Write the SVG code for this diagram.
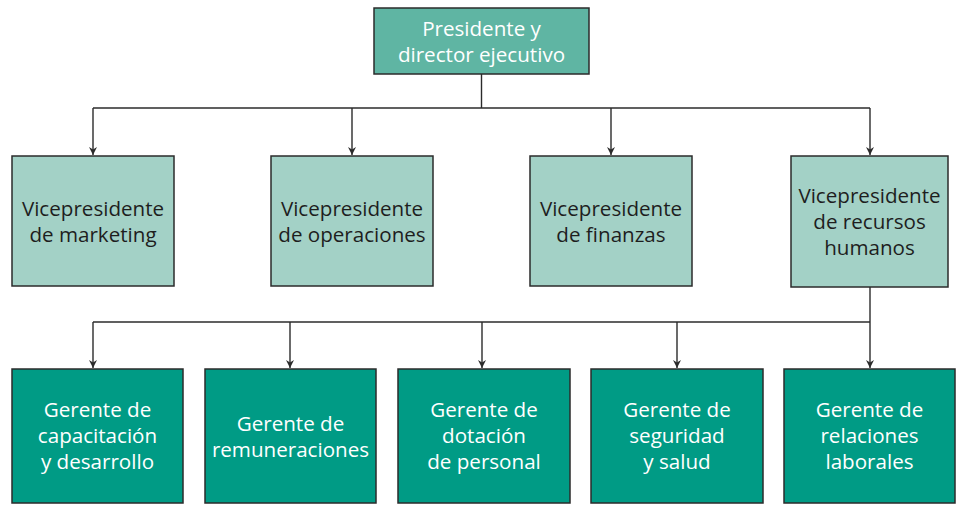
<svg xmlns="http://www.w3.org/2000/svg" width="957" height="505" viewBox="0 0 957 505">
<defs>
<style>
.box{stroke:#2b2b2b;stroke-width:1.5}
.top{fill:#5fb5a3}
.vp{fill:#a3d1c6}
.ger{fill:#009b85}
text{font-family:"Open Sans","Noto Sans",sans-serif;font-size:20.6px;text-anchor:middle}
.w{fill:#ffffff}
.d{fill:#1e1e1e}
.ln{fill:none;stroke:#2b2b2b;stroke-width:1.4}
</style>
<marker id="ah" viewBox="0 0 10 10" refX="10" refY="5" markerWidth="8" markerHeight="8" markerUnits="userSpaceOnUse" orient="auto">
<path d="M0,0 L10,5 L0,10 L3,5 Z" fill="#2b2b2b"/>
</marker>
</defs>
<rect width="957" height="505" fill="#ffffff"/>
<g id="connectors">
<path class="ln" d="M481.5,74 V108"/>
<path class="ln" d="M93,108 H870"/>
<path class="ln" d="M93,108 V155" marker-end="url(#ah)"/>
<path class="ln" d="M352,108 V155" marker-end="url(#ah)"/>
<path class="ln" d="M611,108 V155" marker-end="url(#ah)"/>
<path class="ln" d="M870,108 V155" marker-end="url(#ah)"/>
<path class="ln" d="M870,287 V368" marker-end="url(#ah)"/>
<path class="ln" d="M93,322 H870"/>
<path class="ln" d="M93,322 V368" marker-end="url(#ah)"/>
<path class="ln" d="M290,322 V368" marker-end="url(#ah)"/>
<path class="ln" d="M482,322 V368" marker-end="url(#ah)"/>
<path class="ln" d="M677,322 V368" marker-end="url(#ah)"/>
</g>
<g id="presidente">
<rect class="box top" x="374" y="8" width="215" height="66"/>
<text class="w" x="481.5" y="36">Presidente y</text>
<text class="w" x="481.5" y="62">director ejecutivo</text>
</g>
<g id="vp-marketing">
<rect class="box vp" x="12" y="156" width="162" height="130"/>
<text class="d" x="93" y="216">Vicepresidente</text>
<text class="d" x="93" y="242">de marketing</text>
</g>
<g id="vp-operaciones">
<rect class="box vp" x="271" y="156" width="162" height="130"/>
<text class="d" x="352" y="216">Vicepresidente</text>
<text class="d" x="352" y="242">de operaciones</text>
</g>
<g id="vp-finanzas">
<rect class="box vp" x="530" y="156" width="162" height="130"/>
<text class="d" x="611" y="216">Vicepresidente</text>
<text class="d" x="611" y="242">de finanzas</text>
</g>
<g id="vp-rrhh">
<rect class="box vp" x="791" y="156" width="157" height="131"/>
<text class="d" x="869.5" y="203">Vicepresidente</text>
<text class="d" x="869.5" y="229">de recursos</text>
<text class="d" x="869.5" y="255">humanos</text>
</g>
<g id="g-capacitacion">
<rect class="box ger" x="12" y="369" width="171" height="134"/>
<text class="w" x="97.5" y="417">Gerente de</text>
<text class="w" x="97.5" y="443">capacitación</text>
<text class="w" x="97.5" y="469">y desarrollo</text>
</g>
<g id="g-remuneraciones">
<rect class="box ger" x="205" y="369" width="171" height="134"/>
<text class="w" x="290.5" y="431">Gerente de</text>
<text class="w" x="290.5" y="457">remuneraciones</text>
</g>
<g id="g-dotacion">
<rect class="box ger" x="398" y="369" width="172" height="134"/>
<text class="w" x="484" y="417">Gerente de</text>
<text class="w" x="484" y="443">dotación</text>
<text class="w" x="484" y="469">de personal</text>
</g>
<g id="g-seguridad">
<rect class="box ger" x="591" y="369" width="172" height="134"/>
<text class="w" x="677" y="417">Gerente de</text>
<text class="w" x="677" y="443">seguridad</text>
<text class="w" x="677" y="469">y salud</text>
</g>
<g id="g-laborales">
<rect class="box ger" x="784" y="369" width="171" height="134"/>
<text class="w" x="869.5" y="417">Gerente de</text>
<text class="w" x="869.5" y="443">relaciones</text>
<text class="w" x="869.5" y="469">laborales</text>
</g>
</svg>
